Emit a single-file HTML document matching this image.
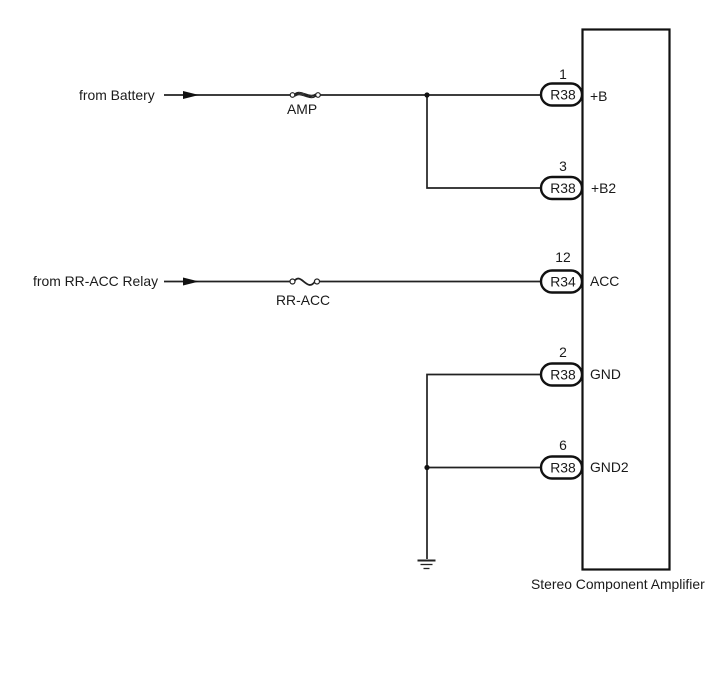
<!DOCTYPE html>
<html>
<head>
<meta charset="utf-8">
<style>
html,body{margin:0;padding:0;background:#fff;width:713px;height:681px;overflow:hidden}
svg{display:block}
text{font-family:"Liberation Sans",sans-serif;font-size:13.9px;fill:#1a1a1a}
</style>
</head>
<body>
<svg width="713" height="681" viewBox="0 0 713 681" xmlns="http://www.w3.org/2000/svg">
<rect width="713" height="681" fill="#fff"/>
<rect x="582.5" y="29.5" width="87" height="540" fill="#fff" stroke="#111" stroke-width="2.2"/>
<g stroke="#222" stroke-width="1.7" fill="none">
<path d="M164 95H291M320 95H541"/>
<path d="M164 281.500H291M320 281.500H541"/>
<path d="M427 95V188H541"/>
<path d="M541 374.500H427V559"/>
<path d="M427 467.500H541"/>
<path d="M295 95C301 90 309 100 316 95M295 93.800C301 88.800 309 98.800 316 93.800M295 96.200C301 91.200 309 101.200 316 96.200" stroke-width="1.100"/>
<path d="M294 281.500C301 271 307 293 315 281.500" stroke-width="1.800"/>
</g>
<path d="M183 91L199 95L183 99Z" fill="#111"/>
<path d="M183 277.500L199 281.500L183 285.500Z" fill="#111"/>
<g fill="#fff" stroke="#222" stroke-width="1.200">
<circle cx="292.500" cy="95" r="2.300"/><circle cx="318" cy="95" r="2.300"/>
<circle cx="292.500" cy="281.500" r="2.500"/><circle cx="317" cy="281.500" r="2.500"/>
</g>
<circle cx="427" cy="95" r="2.600" fill="#111"/>
<circle cx="427" cy="467.500" r="2.600" fill="#111"/>
<g stroke="#222" fill="none">
<path d="M417.500 560.500H435.500" stroke-width="2"/>
<path d="M420.500 564.500H432.500" stroke-width="1.300"/>
<path d="M423.500 568.500H429.500" stroke-width="1.300"/>
</g>
<g fill="#fff" stroke="#111" stroke-width="2.400">
<rect x="541" y="83.500" width="41" height="22" rx="11"/>
<rect x="541" y="177" width="41" height="22" rx="11"/>
<rect x="541" y="270.500" width="41" height="22" rx="11"/>
<rect x="541" y="363.500" width="41" height="22" rx="11"/>
<rect x="541" y="456.500" width="41" height="22" rx="11"/>
</g>
<text x="79" y="100">from Battery</text>
<text x="33" y="286">from RR-ACC Relay</text>
<text x="287" y="114">AMP</text>
<text x="276" y="305">RR-ACC</text>
<g text-anchor="middle">
<text x="563" y="79">1</text>
<text x="563" y="171">3</text>
<text x="563" y="262">12</text>
<text x="563" y="357">2</text>
<text x="563" y="450">6</text>
<text x="563" y="99.500">R38</text>
<text x="563" y="193">R38</text>
<text x="563" y="286.500">R34</text>
<text x="563" y="379.500">R38</text>
<text x="563" y="472.500">R38</text>
</g>
<text x="590" y="101">+B</text>
<text x="591" y="193">+B2</text>
<text x="590" y="286">ACC</text>
<text x="590" y="379">GND</text>
<text x="590" y="472">GND2</text>
<text x="531" y="589">Stereo Component Amplifier</text>
</svg>
</body>
</html>
